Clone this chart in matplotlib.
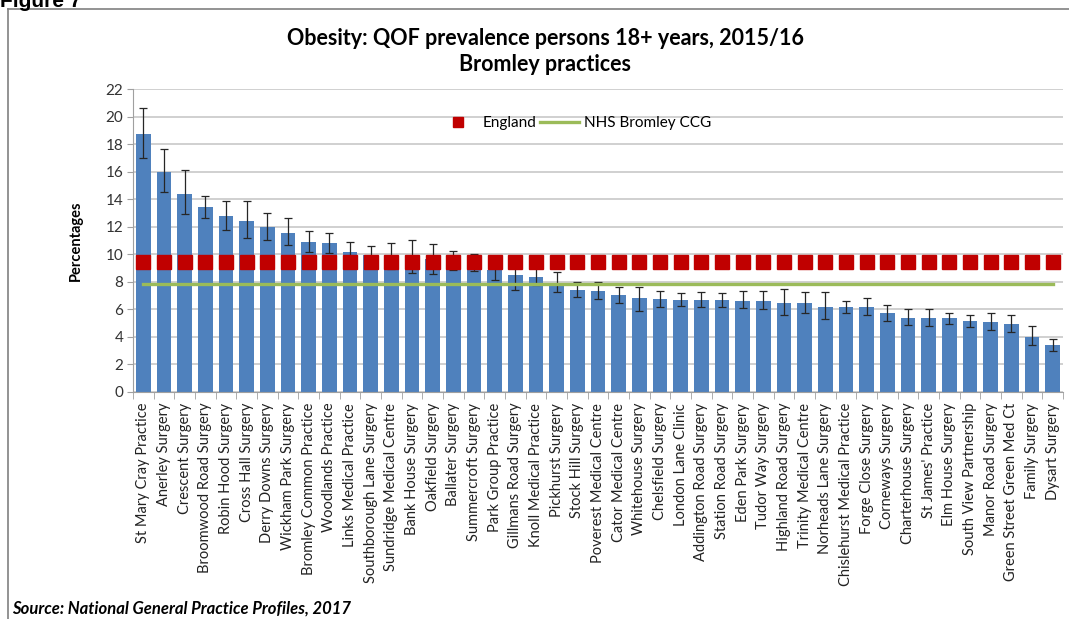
import numpy as np
import matplotlib
matplotlib.use("Agg")
from matplotlib import pyplot as plt

# Practice names, ordered as in the chart
practices = [
    "St Mary Cray Practice", "Anerley Surgery", "Crescent Surgery", "Broomwood Road Surgery",
    "Robin Hood Surgery", "Cross Hall Surgery", "Derry Downs Surgery", "Wickham Park Surgery",
    "Bromley Common Practice", "Woodlands Practice", "Links Medical Practice",
    "Southborough Lane Surgery", "Sundridge Medical Centre", "Bank House Surgery",
    "Oakfield Surgery", "Ballater Surgery", "Summercroft Surgery", "Park Group Practice",
    "Gillmans Road Surgery", "Knoll Medical Practice", "Pickhurst Surgery", "Stock Hill Surgery",
    "Poverest Medical Centre", "Cator Medical Centre", "Whitehouse Surgery", "Chelsfield Surgery",
    "London Lane Clinic", "Addington Road Surgery", "Station Road Surgery", "Eden Park Surgery",
    "Tudor Way Surgery", "Highland Road Surgery", "Trinity Medical Centre", "Norheads Lane Surgery",
    "Chislehurst Medical Practice", "Forge Close Surgery", "Corneways Surgery",
    "Charterhouse Surgery", "St James' Practice", "Elm House Surgery", "South View Partnership",
    "Manor Road Surgery", "Green Street Green Med Ct", "Family Surgery", "Dysart Surgery",
]

# Prevalence (%) and 95% confidence limits
prevalence = [
    18.73, 15.99, 14.37, 13.40, 12.77, 12.40, 11.99, 11.53, 10.86, 10.80, 10.17,
    9.95, 9.84, 9.80, 9.64, 9.50, 9.38, 8.85, 8.48, 8.36, 7.76, 7.39,
    7.35, 7.03, 6.79, 6.74, 6.67, 6.67, 6.67, 6.62, 6.62, 6.42, 6.42, 6.13,
    6.13, 6.13, 5.70, 5.33, 5.33, 5.33, 5.12, 5.07, 4.95, 4.00, 3.37,
]
upper_ci = [
    20.64, 17.64, 16.09, 14.20, 13.86, 13.86, 12.99, 12.60, 11.68, 11.53, 10.90,
    10.61, 10.78, 11.02, 10.73, 10.22, 10.01, 9.33, 8.97, 8.97, 8.73, 7.98,
    7.98, 7.64, 7.59, 7.35, 7.20, 7.27, 7.20, 7.32, 7.32, 7.44, 7.27, 7.27,
    6.62, 6.84, 6.28, 5.99, 6.04, 5.75, 5.58, 5.75, 5.58, 4.78, 3.81,
]
lower_ci = [
    16.96, 14.49, 12.94, 12.62, 11.77, 11.15, 11.05, 10.64, 10.13, 10.06, 9.45,
    9.30, 8.89, 8.60, 8.55, 8.83, 8.80, 8.12, 7.39, 7.76, 7.22, 6.86,
    6.76, 6.42, 5.89, 6.13, 6.23, 6.13, 6.18, 6.06, 6.04, 5.58, 5.70, 5.26,
    5.70, 5.55, 5.16, 4.85, 4.78, 4.92, 4.68, 4.48, 4.36, 3.39, 2.98,
]
england = 9.45
bromley_ccg = 7.8

FONT = "Lato"
BAR_BLUE = "#4F81BD"
RED = "#C00000"
GREEN = "#9BBB59"

fig = plt.figure(figsize=(10.69, 6.19), dpi=100)
ax = fig.add_axes([0.1244, 0.3672, 0.8700, 0.4890])

x = np.arange(len(practices))
vals = np.array(prevalence)
yerr = [vals - np.array(lower_ci), np.array(upper_ci) - vals]

ax.bar(x, vals, width=0.7, color=BAR_BLUE, zorder=2)
ax.errorbar(x, vals, yerr=yerr, fmt="none", ecolor="#262626", elinewidth=0.9,
            capsize=3, capthick=0.9, zorder=3)
ax.plot(x, [england] * len(x), ls="none", marker="s", ms=10, color=RED,
        label="England", zorder=4)
ax.plot(x, [bromley_ccg] * len(x), color=GREEN, lw=2.4, label="NHS Bromley CCG", zorder=5)

ax.set_xlim(-0.5, len(x) - 0.5)
ax.set_ylim(0, 22)
ax.set_yticks(range(0, 23, 2))
ax.yaxis.grid(True, color="#c8c8c8", lw=1.2, zorder=0)
ax.set_axisbelow(True)

ax.set_xticks(x)
ax.set_xticklabels(practices, rotation=90, fontsize=10.5, family=FONT, color="#222222")
ax.set_xticks(np.arange(-0.5, len(x)), minor=True)
ax.tick_params(axis="x", which="major", length=0, pad=8)
ax.tick_params(axis="x", which="minor", length=5, color="#a0a0a0")
ax.tick_params(axis="y", length=4, color="#a0a0a0", labelsize=11, labelcolor="#333333", pad=3)
for lab in ax.get_yticklabels():
    lab.set_family(FONT)

for side in ["top", "right"]:
    ax.spines[side].set_visible(False)
for side in ["left", "bottom"]:
    ax.spines[side].set_color("#a0a0a0")

ax.set_ylabel("Percentages", fontsize=10.5, fontweight="bold", family=FONT, labelpad=16)

ax.legend(loc="center", bbox_to_anchor=(0.475, 0.887), ncol=2, frameon=False,
          prop={"family": FONT, "size": 11}, handlelength=2.6, handletextpad=0.3,
          columnspacing=0.2, markerscale=0.75)

fig.text(0.51, 0.937, "Obesity: QOF prevalence persons 18+ years, 2015/16",
         ha="center", va="center", fontsize=15.5, fontweight="bold", family=FONT)
fig.text(0.51, 0.895, "Bromley practices", ha="center", va="center",
         fontsize=15.5, fontweight="bold", family=FONT)
fig.text(0.011, 0.017, "Source: National General Practice Profiles, 2017", ha="left",
         va="center", fontsize=12, fontweight="bold", style="italic", family=FONT)
fig.text(0.0, 0.998, "Figure 7", ha="left", va="center", fontsize=15,
         fontweight="bold", family="Liberation Sans")

# frame around the figure (only top and left edges are in view)
fig.add_artist(plt.Line2D([0.0075, 0.0075], [0.0, 0.985], color="#808080", lw=1.2))
fig.add_artist(plt.Line2D([0.0075, 1.0], [0.985, 0.985], color="#808080", lw=1.2))

fig.savefig("out.png", dpi=100)
